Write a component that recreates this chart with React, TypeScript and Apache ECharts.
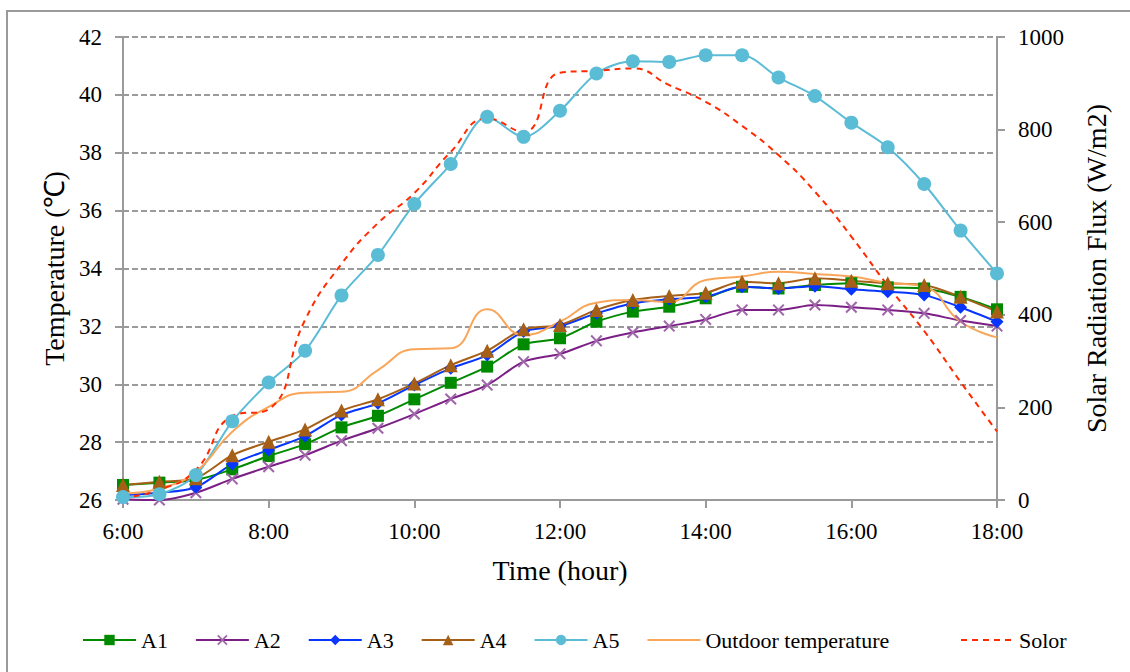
import React, { useEffect, useRef } from "react";
import * as echarts from "echarts";

const times = [
  "6:00", "6:30", "7:00", "7:30", "8:00", "8:30", "9:00", "9:30", "10:00", "10:30",
  "11:00", "11:30", "12:00", "12:30", "13:00", "13:30", "14:00", "14:30", "15:00",
  "15:30", "16:00", "16:30", "17:00", "17:30", "18:00",
];

const a1 = [26.52, 26.6, 26.69, 27.06, 27.52, 27.93, 28.51, 28.91, 29.48, 30.05, 30.61, 31.38, 31.59, 32.16, 32.51, 32.68, 32.97, 33.37, 33.31, 33.43, 33.49, 33.35, 33.31, 33.02, 32.59];
const a2 = [26.03, 26.0, 26.25, 26.73, 27.15, 27.55, 28.05, 28.48, 28.97, 29.49, 29.97, 30.78, 31.05, 31.5, 31.79, 32.01, 32.24, 32.57, 32.57, 32.74, 32.66, 32.57, 32.45, 32.2, 32.01];
const a3 = [26.17, 26.25, 26.44, 27.24, 27.73, 28.21, 28.94, 29.34, 29.97, 30.55, 31.01, 31.82, 32.01, 32.45, 32.8, 32.94, 33.02, 33.37, 33.31, 33.39, 33.28, 33.2, 33.08, 32.66, 32.16];
const a4 = [26.52, 26.63, 26.75, 27.55, 28.01, 28.44, 29.09, 29.48, 30.03, 30.66, 31.16, 31.9, 32.05, 32.57, 32.91, 33.05, 33.16, 33.54, 33.49, 33.66, 33.58, 33.49, 33.43, 33.02, 32.51];
const a5 = [26.1, 26.2, 26.86, 28.72, 30.06, 31.16, 33.07, 34.47, 36.23, 37.61, 39.24, 38.55, 39.45, 40.74, 41.16, 41.14, 41.37, 41.37, 40.6, 39.96, 39.04, 38.19, 36.92, 35.31, 33.83];
const outdoor = [26.23, 26.4, 26.98, 28.36, 29.22, 29.71, 29.74, 30.49, 31.21, 31.24, 32.59, 31.7, 32.16, 32.82, 32.91, 32.85, 33.6, 33.72, 33.89, 33.81, 33.72, 33.51, 33.37, 32.16, 31.62];
const solar = [5, 22, 65, 181, 196, 389, 510, 598, 663, 752, 824, 795, 923, 927, 932, 896, 860, 808, 745, 666, 569, 463, 365, 255, 148];

const FONT = "'Liberation Serif', 'Times New Roman', serif";
const X_SYMBOL = "path://M0,1.2L1.2,0L5,3.8L8.8,0L10,1.2L6.2,5L10,8.8L8.8,10L5,6.2L1.2,10L0,8.8L3.8,5Z";

export default function App() {
  const ref = useRef<HTMLDivElement>(null);
  useEffect(() => {
    document.body.style.margin = "0";
    const chart = echarts.init(ref.current!, null, { renderer: "svg" });
    const mk = (name: string, data: number[], color: string, symbol: string, size: number, markerColor?: string, lw = 2) => ({
      name,
      type: "line",
      data,
      smooth: 0.3,
      symbol,
      symbolSize: size,
      showSymbol: true,
      lineStyle: { color, width: lw },
      itemStyle: { color: markerColor || color },
      color,
    });
    const axisGray = "#9a9a9a";
    const legendBase = {
      top: 629,
      padding: 0,
      itemWidth: 53,
      itemHeight: 13,
      itemGap: 27,
      textStyle: { fontFamily: FONT, fontSize: 22, color: "#000" },
    };
    chart.setOption({
      animation: false,
      backgroundColor: "#fff",
      textStyle: { fontFamily: FONT },
      graphic: [
        {
          type: "rect",
          shape: { x: 7, y: 11, width: 1200, height: 700 },
          style: { fill: "none", stroke: axisGray, lineWidth: 2 },
          silent: true,
          z: -10,
        },
      ],
      grid: { left: 123, right: 133, top: 37, bottom: 172, containLabel: false },
      legend: [
        {
          ...legendBase,
          left: 82,
          data: ["A1", "A2", "A3", "A4", "A5", { name: "Outdoor temperature", itemStyle: { opacity: 0 } }],
        },
        {
          ...legendBase,
          left: 960,
          data: [{ name: "Solor", itemStyle: { opacity: 0 } }],
        },
      ],
      xAxis: {
        type: "category",
        data: times,
        boundaryGap: false,
        name: "Time (hour)",
        nameLocation: "middle",
        nameGap: 56,
        nameTextStyle: { fontFamily: FONT, fontSize: 28, color: "#000" },
        axisLine: { lineStyle: { color: axisGray, width: 2 } },
        axisTick: { interval: 3, length: 8, lineStyle: { color: axisGray, width: 2 } },
        axisLabel: { interval: 3, fontFamily: FONT, fontSize: 23, color: "#000", margin: 20 },
        splitLine: { show: false },
      },
      yAxis: [
        {
          type: "value",
          min: 26,
          max: 42,
          interval: 2,
          name: "Temperature (℃)",
          nameLocation: "middle",
          nameGap: 51,
          nameRotate: 90,
          nameTextStyle: { fontFamily: FONT, fontSize: 28, color: "#000" },
          axisLine: { show: true, lineStyle: { color: axisGray, width: 2 } },
          axisTick: { show: true, length: 8, lineStyle: { color: axisGray, width: 2 } },
          axisLabel: { fontFamily: FONT, fontSize: 23, color: "#000", margin: 21 },
          splitLine: { show: true, lineStyle: { color: axisGray, width: 2, type: [6, 3] } },
        },
        {
          type: "value",
          min: 0,
          max: 1000,
          interval: 200,
          position: "right",
          name: "Solar Radiation Flux (W/m2)",
          nameLocation: "middle",
          nameGap: 85,
          nameRotate: 90,
          nameTextStyle: { fontFamily: FONT, fontSize: 28, color: "#000" },
          axisLine: { show: true, lineStyle: { color: axisGray, width: 2 } },
          axisTick: { show: true, length: 8, lineStyle: { color: axisGray, width: 2 } },
          axisLabel: { fontFamily: FONT, fontSize: 23, color: "#000", margin: 21, formatter: (v: number) => String(v) },
          splitLine: { show: false },
        },
      ],
      series: [
        mk("A1", a1, "#008a00", "rect", 12, "#008a00"),
        mk("A2", a2, "#7b1f86", X_SYMBOL, 12, "#a066aa"),
        mk("A3", a3, "#0535ff", "diamond", 13, "#0535ff"),
        mk("A4", a4, "#a65f16", "triangle", 14, "#a65f16"),
        mk("A5", a5, "#5bbcd6", "circle", 14, "#5bbcd6"),
        {
          name: "Outdoor temperature",
          type: "line",
          data: outdoor,
          smooth: 0.5,
          symbol: "none",
          lineStyle: { color: "#f9a65a", width: 2 },
          itemStyle: { color: "#f9a65a" },
          color: "#f9a65a",
        },
        {
          name: "Solor",
          type: "line",
          yAxisIndex: 1,
          data: solar,
          smooth: 0.5,
          symbol: "none",
          lineStyle: { color: "#ff2a00", width: 2, type: [6, 5] },
          itemStyle: { color: "#ff2a00" },
          color: "#ff2a00",
        },
      ],
    });
    return () => chart.dispose();
  }, []);
  return <div ref={ref} style={{ width: 1130, height: 672 }} />;
}
